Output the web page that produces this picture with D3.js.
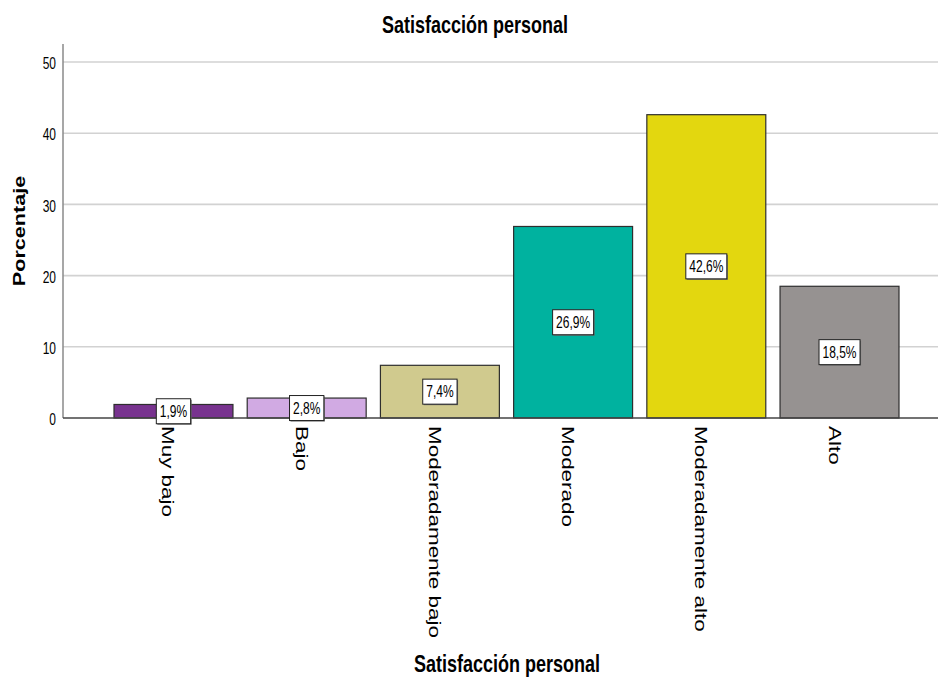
<!DOCTYPE html>
<html>
<head>
<meta charset="utf-8">
<script src="https://cdn.jsdelivr.net/npm/d3@7"></script>
<style>
  html, body { margin: 0; padding: 0; background: #fff; }
  text { font-family: "Liberation Sans", Arial, sans-serif; fill: #000; }
</style>
</head>
<body>
<svg id="chart" width="938" height="679"></svg>
<script>
// ---- data ----
const categories = ["Muy bajo", "Bajo", "Moderadamente bajo", "Moderado", "Moderadamente alto", "Alto"];
const values = [1.9, 2.8, 7.4, 26.9, 42.6, 18.5];
const valueLabels = ["1,9%", "2,8%", "7,4%", "26,9%", "42,6%", "18,5%"];
const barColors = ["#78338f", "#d1aae3", "#d0ca8e", "#00b29f", "#e3d70f", "#969291"];
const yTicks = [0, 10, 20, 30, 40, 50];
const chartTitle = "Satisfacción personal";
const xTitle = "Satisfacción personal";
const yTitle = "Porcentaje";

// ---- layout ----
const plotLeft = 63, plotRight = 938, plotTop = 44, plotBottom = 418;
const stretch = 1.3; // vertical text stretch of the reference

const svg = d3.select("#chart");

const x = d3.scaleBand()
  .domain(categories)
  .range([114, 899])
  .paddingInner(0.107)
  .paddingOuter(0);

const y = d3.scaleLinear()
  .domain([0, 50])
  .range([plotBottom, 62]);

// gridlines
svg.append("g")
  .selectAll("line")
  .data(yTicks.filter(d => d > 0))
  .join("line")
  .attr("x1", plotLeft).attr("x2", plotRight)
  .attr("y1", d => y(d)).attr("y2", d => y(d))
  .attr("stroke", "#d2d2d2")
  .attr("stroke-width", 1.6);

// y axis (labels only, custom line)
const yAxis = d3.axisLeft(y).tickValues(yTicks).tickSize(0).tickPadding(7).tickFormat(d3.format("d"));
const gy = svg.append("g").attr("transform", `translate(${plotLeft},0)`).call(yAxis);
gy.select(".domain").remove();
gy.selectAll("text")
  .attr("font-size", 12)
  .attr("fill", "#222")
  .attr("font-family", "'Liberation Sans', Arial, sans-serif")
  .attr("dy", null)
  .attr("dominant-baseline", "central")
  .attr("transform", `translate(0,1) scale(1,${stretch})`);

svg.append("line")
  .attr("x1", plotLeft).attr("x2", plotLeft)
  .attr("y1", plotTop).attr("y2", plotBottom)
  .attr("stroke", "#8a8a8a").attr("stroke-width", 1.5);

// bars
svg.append("g")
  .selectAll("rect")
  .data(categories)
  .join("rect")
  .attr("x", d => x(d))
  .attr("width", x.bandwidth())
  .attr("y", (d, i) => y(values[i]))
  .attr("height", (d, i) => y(0) - y(values[i]))
  .attr("fill", (d, i) => barColors[i])
  .attr("stroke", "#2e2e2e")
  .attr("stroke-width", 1.2);

// x axis line
svg.append("line")
  .attr("x1", plotLeft).attr("x2", plotRight)
  .attr("y1", plotBottom).attr("y2", plotBottom)
  .attr("stroke", "#444").attr("stroke-width", 1.4);

// category labels (rotated, reading downward)
svg.append("g")
  .selectAll("text")
  .data(categories)
  .join("text")
  .attr("transform", d => `translate(${x(d) + x.bandwidth() / 2 - 11},${plotBottom + 8}) rotate(90) scale(1.32,1)`)
  .attr("font-size", 17)
  .attr("fill", "#222")
  .attr("text-anchor", "start")
  .text(d => d);

// value labels with boxes
const lbl = svg.append("g")
  .selectAll("g")
  .data(categories)
  .join("g")
  .attr("transform", (d, i) => `translate(${x(d) + x.bandwidth() / 2},${(y(values[i]) + y(0)) / 2})`);

lbl.each(function(d, i) {
  const g = d3.select(this);
  const t = g.append("text")
    .attr("font-size", 12)
    .attr("text-anchor", "middle")
    .attr("dominant-baseline", "central")
    .attr("transform", `scale(1,${stretch})`)
    .text(valueLabels[i]);
  const w = t.node().getComputedTextLength() + 7;
  const h = 25;
  g.insert("rect", "text")
    .attr("x", -w / 2 + 1).attr("y", -h / 2 + 1)
    .attr("width", w).attr("height", h)
    .attr("fill", "#6a6a6a");
  g.insert("rect", "text")
    .attr("x", -w / 2).attr("y", -h / 2)
    .attr("width", w).attr("height", h)
    .attr("fill", "#fff")
    .attr("stroke", "#222")
    .attr("stroke-width", 1);
});

// titles
svg.append("text")
  .attr("transform", `translate(475,33) scale(1,${stretch})`)
  .attr("text-anchor", "middle")
  .attr("font-size", 18)
  .attr("font-weight", "bold")
  .attr("fill", "#111")
  .text(chartTitle);

svg.append("text")
  .attr("transform", `translate(507,672) scale(1,${stretch})`)
  .attr("text-anchor", "middle")
  .attr("font-size", 18)
  .attr("font-weight", "bold")
  .attr("fill", "#111")
  .text(xTitle);

svg.append("text")
  .attr("transform", `translate(25,231) rotate(-90) scale(1.27,1)`)
  .attr("text-anchor", "middle")
  .attr("font-size", 17)
  .attr("font-weight", "bold")
  .attr("fill", "#111")
  .text(yTitle);
</script>
</body>
</html>
